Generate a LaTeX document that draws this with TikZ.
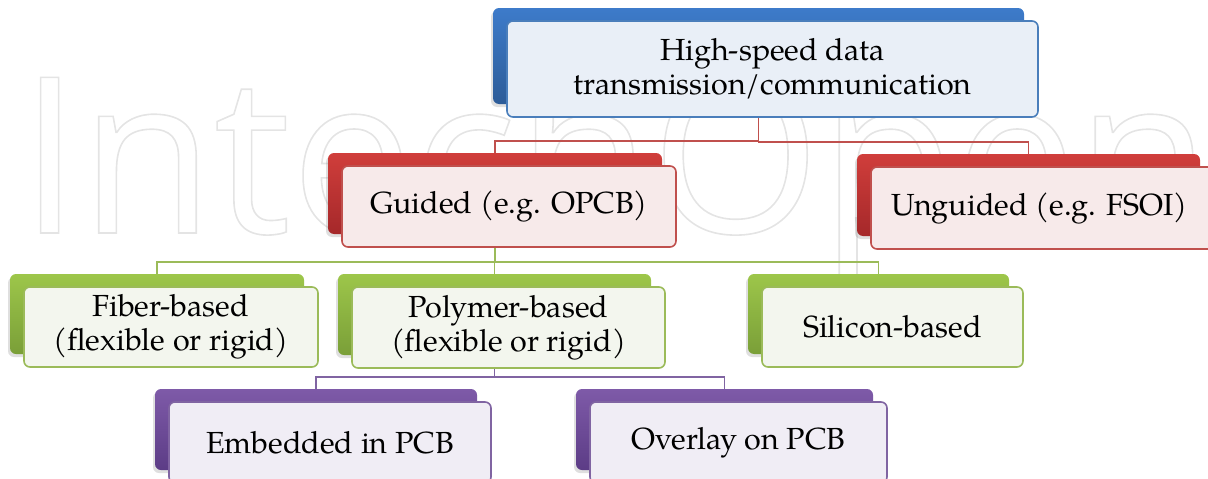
\documentclass[tikz,border=0pt]{standalone}
\usepackage{fontspec}
\newfontfamily\wmfont{Open Sans}
\IfFontExistsTF{TeX Gyre Pagella}{\newfontfamily\palfont{TeX Gyre Pagella}}{\newfontfamily\palfont{Liberation Serif}}
\usetikzlibrary{shadows}
\pgfdeclarelayer{bg}
\pgfsetlayers{bg,main}
\definecolor{blueT}{HTML}{3D7BCA}
\definecolor{blueB}{HTML}{2D5C98}
\definecolor{blueL}{HTML}{4A7EBB}
\definecolor{blueF}{HTML}{E9EFF7}
\definecolor{redT}{HTML}{D03E3B}
\definecolor{redB}{HTML}{A5282A}
\definecolor{redL}{HTML}{C0504D}
\definecolor{redF}{HTML}{F7EAEA}
\definecolor{greenT}{HTML}{9DC64A}
\definecolor{greenB}{HTML}{7A9F38}
\definecolor{greenL}{HTML}{9BBB59}
\definecolor{greenF}{HTML}{F3F6EE}
\definecolor{purpT}{HTML}{7E5AA8}
\definecolor{purpB}{HTML}{5C3C86}
\definecolor{purpL}{HTML}{8064A2}
\definecolor{purpF}{HTML}{F0EDF5}
\definecolor{wmc}{HTML}{E4E4E4}
\tikzset{
  backbox/.style={rectangle, rounded corners=6pt, inner sep=0pt,
    drop shadow={shadow xshift=-2pt, shadow yshift=-3pt, opacity=0.25}},
  frontbox/.style={rectangle, rounded corners=6pt, inner sep=0pt, line width=1.6pt,
    align=center, text=black,
    font=\palfont\fontsize{30.5}{34}\selectfont},
  conn/.style={line width=1.8pt}
}
\begin{document}
\begin{tikzpicture}[x=1pt,y=-1pt]
\useasboundingbox (0,0) rectangle (1208,479);
\clip (0,0) rectangle (1208,479);

% back boxes
\node[backbox, minimum width=531pt, minimum height=96pt, top color=blueT, bottom color=blueB] (topB) at (758.5,56) {};
\node[backbox, minimum width=334pt, minimum height=81pt, top color=redT, bottom color=redB] (guidedB) at (495,193.5) {};
\node[backbox, minimum width=343pt, minimum height=82pt, top color=redT, bottom color=redB] (unguidedB) at (1028.5,195) {};
\node[backbox, minimum width=294pt, minimum height=80pt, top color=greenT, bottom color=greenB] (fiberB) at (157,314) {};
\node[backbox, minimum width=313pt, minimum height=81pt, top color=greenT, bottom color=greenB] (polymerB) at (494.5,314.5) {};
\node[backbox, minimum width=261pt, minimum height=80pt, top color=greenT, bottom color=greenB] (siliconB) at (878.5,314) {};
\node[backbox, minimum width=322pt, minimum height=81pt, top color=purpT, bottom color=purpB] (embeddedB) at (316,429.5) {};
\node[backbox, minimum width=297pt, minimum height=81pt, top color=purpT, bottom color=purpB] (overlayB) at (724.5,429.5) {};

% front boxes
\node[frontbox, draw=blueL, fill=blueF, minimum width=531pt, minimum height=96pt] (top) at (772.5,69) {High-speed data\\transmission/communication};
\node[frontbox, draw=redL, fill=redF, minimum width=334pt, minimum height=81pt] (guided) at (509,206.5) {Guided (e.g. OPCB)};
\node[frontbox, draw=redL, fill=redF, minimum width=343pt, minimum height=82pt] (unguided) at (1042.5,208) {\hspace*{-6pt}Unguided (e.g. FSOI)};
\node[frontbox, draw=greenL, fill=greenF, minimum width=294pt, minimum height=80pt] (fiber) at (171,327) {Fiber-based\\(flexible or rigid)};
\node[frontbox, draw=greenL, fill=greenF, minimum width=313pt, minimum height=81pt] (polymer) at (508.5,327.5) {Polymer-based\\(flexible or rigid)};
\node[frontbox, draw=greenL, fill=greenF, minimum width=261pt, minimum height=80pt] (silicon) at (892.5,327) {Silicon-based};
\node[frontbox, draw=purpL, fill=purpF, minimum width=322pt, minimum height=81pt] (embedded) at (330,442.5) {Embedded in PCB};
\node[frontbox, draw=purpL, fill=purpF, minimum width=297pt, minimum height=81pt] (overlay) at (738.5,442.5) {Overlay on PCB};

\begin{pgfonlayer}{bg}
% watermark
\node[anchor=base west, inner sep=0pt, text=wmc, font=\wmfont\fontsize{218}{218}\selectfont] (wm) at (19,233)
  {\special{pdf:literal direct 1 Tr 1.6 w}IntechOpen\special{pdf:literal direct 0 Tr}};
% connectors
\draw[conn, draw=redL] (topB.center) |- ([yshift=12pt]guidedB.north) -- (guidedB.north);
\draw[conn, draw=redL] (topB.center) |- ([yshift=12pt]unguidedB.north) -- (unguidedB.north);
\draw[conn, draw=greenL] (guidedB.center) |- ([yshift=12pt]fiberB.north) -- (fiberB.north);
\draw[conn, draw=greenL] (guidedB.center) |- ([yshift=12pt]polymerB.north) -- (polymerB.north);
\draw[conn, draw=greenL] (guidedB.center) |- ([yshift=12pt]siliconB.north) -- (siliconB.north);
\draw[conn, draw=purpL] (polymerB.center) |- ([yshift=12pt]embeddedB.north) -- (embeddedB.north);
\draw[conn, draw=purpL] (polymerB.center) |- ([yshift=12pt]overlayB.north) -- (overlayB.north);
\end{pgfonlayer}
\end{tikzpicture}
\end{document}
